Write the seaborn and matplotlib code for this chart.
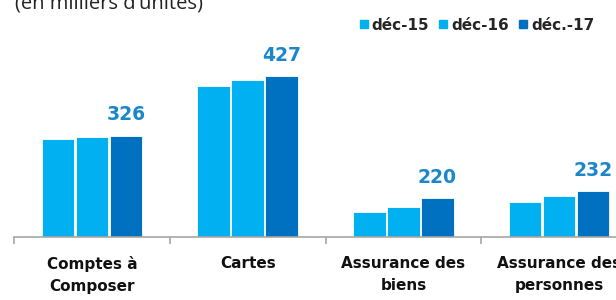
# Import Libraries
import pandas as pd
import matplotlib
matplotlib.use("Agg")
import matplotlib.pyplot as plt
from matplotlib.lines import Line2D
import seaborn as sns

# Data
categories = ["Comptes à\nComposer", "Cartes", "Assurance des\nbiens", "Assurance des\npersonnes"]
periods = ["déc-15", "déc-16", "déc.-17"]
dec15 = [320, 410, 197, 214]
dec16 = [323, 421, 205, 223]
dec17 = [326, 427, 220, 232]
colors = ["#00B0F0", "#00B0F0", "#0070C0"]

df = pd.DataFrame({
    "categorie": categories * 3,
    "periode": [p for p in periods for _ in categories],
    "valeur": dec15 + dec16 + dec17,
})

sns.set_style("white")
plt.rcParams["font.family"] = ["DejaVu Sans"]

fig = plt.figure(figsize=(6.16, 3.0), dpi=100)
ax = fig.add_axes([14 / 616, 1 - 237 / 300, 1 - 14 / 616, 237 / 300])

sns.barplot(data=df, x="categorie", y="valeur", hue="periode", palette=colors,
            order=categories, hue_order=periods, width=0.655, gap=0.04, saturation=1,
            edgecolor="white", linewidth=0.6, ax=ax)

# axis range (does not start at zero)
ax.set_ylim(153.6, 557)
ax.set_xlim(-0.5, 3.365)

# only the bottom line
for s in ["top", "right", "left"]:
    ax.spines[s].set_visible(False)
ax.spines["bottom"].set_color("#A6A6A6")
ax.spines["bottom"].set_linewidth(1.2)
ax.set_yticks([])
ax.set_xlabel("")
ax.set_ylabel("")

# tick marks between groups
ax.set_xticks([-0.5, 0.5, 1.5, 2.5], minor=True)
ax.tick_params(axis="x", which="minor", bottom=True, length=5, width=1.2,
               color="#A6A6A6", direction="out")
ax.tick_params(axis="x", which="major", length=0, pad=14)
for lab in ax.get_xticklabels():
    lab.set_fontweight("bold")
    lab.set_fontsize(11)
    lab.set_linespacing(1.55)
    lab.set_color("#111111")

# labels over the last period
for bar, v in zip(ax.containers[2], dec17):
    ax.annotate(str(v), (bar.get_x() + bar.get_width() / 2, bar.get_height()),
                xytext=(0, 11), textcoords="offset points", ha="center", va="baseline",
                fontsize=13.5, fontweight="bold", color="#1B87C9", annotation_clip=False)

# legend
ax.get_legend().remove()
handles = [Line2D([], [], marker="s", linestyle="", markersize=5.5, color=c) for c in colors]
fig.legend(handles, periods, loc="center right", bbox_to_anchor=(608 / 616, 1 - 25 / 300),
           ncol=3, frameon=False, handlelength=0.5, handletextpad=0.25, columnspacing=0.7,
           prop={"weight": "bold", "size": 11})

# title (cut at top)
fig.text(15 / 616, 1 - 8 / 300, "(en milliers d’unités)", fontsize=14.5, va="baseline",
         ha="left", color="#222222", family=["Open Sans", "DejaVu Sans"])

fig.savefig("out.png", dpi=100)
